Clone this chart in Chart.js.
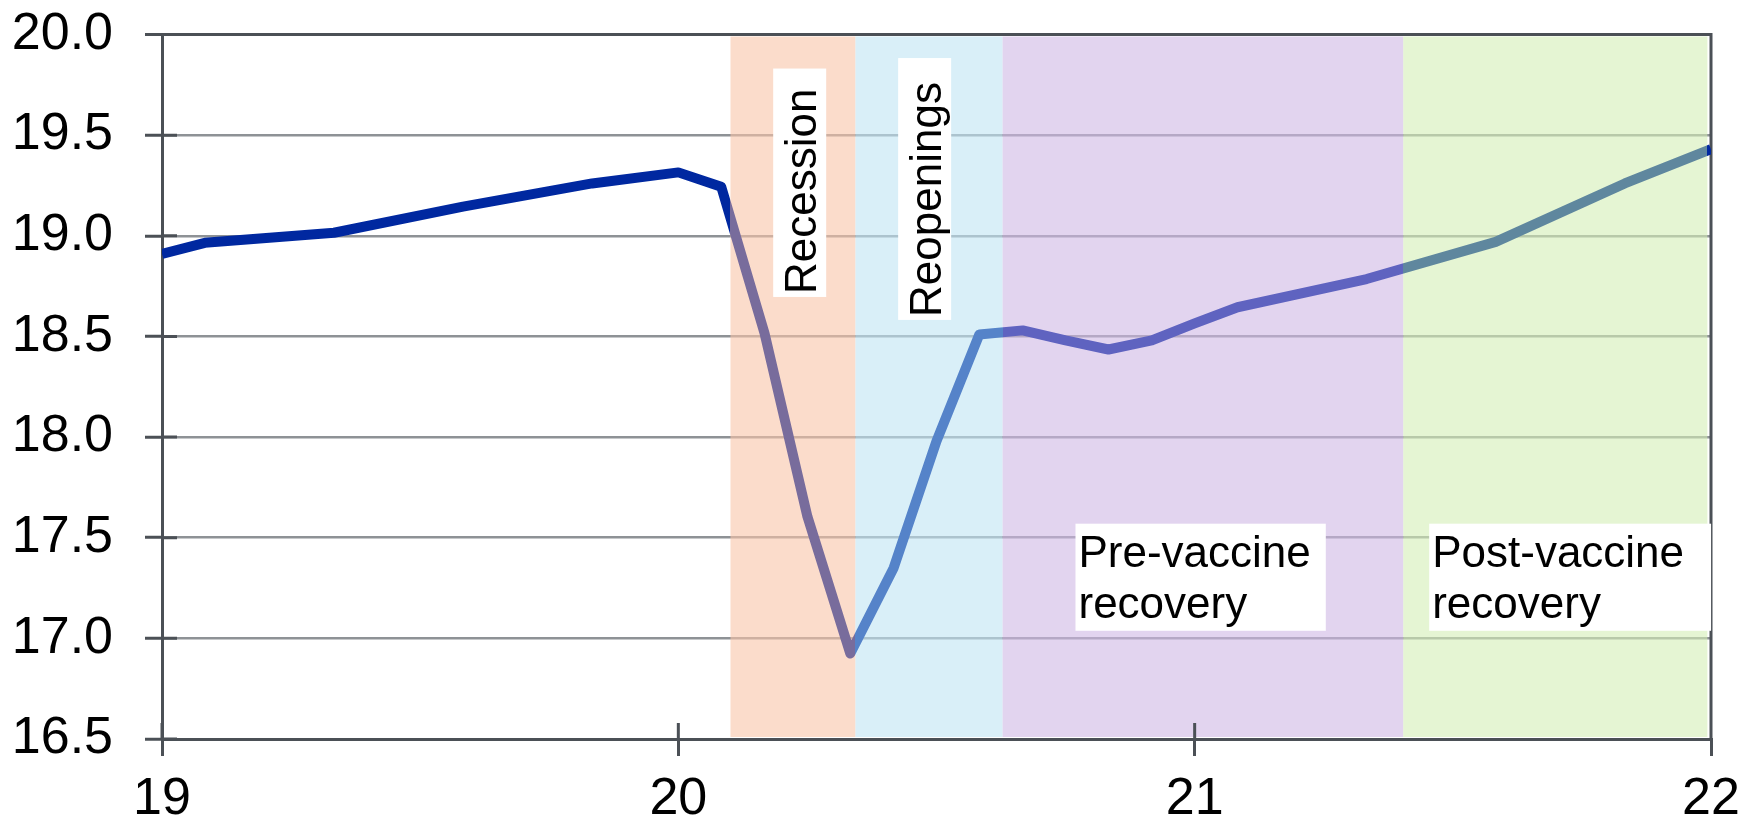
<!DOCTYPE html>
<html>
<head>
<meta charset="utf-8">
<script src="https://cdn.jsdelivr.net/npm/chart.js@4.4.1/dist/chart.umd.min.js"></script>
<style>
  body { margin: 0; background: #fff; }
  #wrap { width: 1745px; height: 822px; }
</style>
</head>
<body>
<div id="wrap"><canvas id="grafica" width="1745" height="822"></canvas></div>
<script>
// values (x = year, 19 = 2019)
const years = [19.0, 19.083, 19.333, 19.583, 19.833, 20.0, 20.083, 20.167, 20.25, 20.333,
               20.417, 20.5, 20.583, 20.667, 20.75, 20.833, 20.917, 21.0, 21.083, 21.333,
               21.583, 21.833, 22.0];
const values = [18.91, 18.965, 19.015, 19.145, 19.26, 19.315, 19.244, 18.515, 17.605, 16.925,
                17.35, 17.98, 18.51, 18.53, 18.48, 18.435, 18.48, 18.565, 18.645, 18.785,
                18.97, 19.26, 19.43];

const phaseNames = ['Recession', 'Reopenings', 'Pre-vaccine recovery', 'Post-vaccine recovery'];
const phaseStart = [20.101, 20.343, 20.628, 21.404];
const phaseEnd = [20.343, 20.628, 21.404, 21.993];

const xTicks = [19, 20, 21, 22];
const yMin = 16.5;
const yMax = 20.0;

// styles
const phaseColors = ['rgba(248,197,168,0.6)', 'rgba(192,228,243,0.6)', 'rgba(207,183,228,0.6)', 'rgba(212,238,182,0.6)'];
const lineColors = ['#0028a0', '#786c9c', '#5583c9', '#5f63c0', '#5f879e', '#0028a0'];
const dark = '#4b5056';
const gridGray = '#8e9296';
const fuente = "'Liberation Sans', Arial, sans-serif";

// where the phase labels sit (data units) and how their white boxes are padded
const phaseLabels = [
  { lines: ['Recession'], x: 20.267, y: 18.711, vertical: true, padEnd: 20 },
  { lines: ['Reopenings'], x: 20.509, y: 18.597, vertical: true, padEnd: 24 },
  { lines: ['Pre-vaccine', 'recovery'], x: 20.775, y: 17.356, vertical: false, padEnd: 15 },
  { lines: ['Post-vaccine', 'recovery'], x: 21.46, y: 17.356, vertical: false, padEnd: 27 }
];

function lineGradient(context) {
  const chart = context.chart;
  const { ctx, chartArea, scales } = chart;
  if (!chartArea || !scales.x) return lineColors[0];
  const left = chartArea.left;
  const width = chartArea.right - chartArea.left;
  const g = ctx.createLinearGradient(left, 0, chartArea.right, 0);
  const bounds = phaseStart.concat([phaseEnd[phaseEnd.length - 1]]);
  g.addColorStop(0, lineColors[0]);
  bounds.forEach((b, i) => {
    let off = (scales.x.getPixelForValue(b) - left) / width;
    off = Math.min(Math.max(off, 0), 1);
    g.addColorStop(off, lineColors[i]);
    g.addColorStop(off, lineColors[i + 1]);
  });
  g.addColorStop(1, lineColors[lineColors.length - 1]);
  return g;
}

const fasesPlugin = {
  id: 'fases',
  beforeDatasetsDraw(chart) {
    const { ctx, chartArea, scales: { x, y } } = chart;
    ctx.save();
    phaseStart.forEach((s, i) => {
      const a = x.getPixelForValue(s);
      const b = x.getPixelForValue(phaseEnd[i]);
      ctx.fillStyle = phaseColors[i];
      ctx.fillRect(a, chartArea.top + 2, b - a, chartArea.bottom - chartArea.top - 4);
    });

    // frame on the right and the inner half of the tick marks
    ctx.strokeStyle = dark;
    ctx.lineWidth = 3;
    ctx.beginPath();
    ctx.moveTo(chartArea.right, chartArea.top - 1.5);
    ctx.lineTo(chartArea.right, chartArea.bottom);
    xTicks.forEach(t => {
      const px = x.getPixelForValue(t);
      ctx.moveTo(px, chartArea.bottom);
      ctx.lineTo(px, chartArea.bottom - 16);
    });
    for (let v = yMin; v <= yMax + 0.001; v += 0.5) {
      const py = y.getPixelForValue(v);
      ctx.moveTo(chartArea.left, py);
      ctx.lineTo(chartArea.left + 15, py);
    }
    ctx.stroke();
    ctx.restore();
  },
  afterDatasetsDraw(chart) {
    const { ctx, scales: { x, y } } = chart;
    const size = 44;
    const lineGap = 51.6;
    ctx.save();
    ctx.font = size + 'px ' + fuente;
    ctx.textBaseline = 'alphabetic';
    ctx.textAlign = 'left';
    phaseLabels.forEach(lab => {
      const w = Math.max(...lab.lines.map(l => ctx.measureText(l).width));
      const h = (lab.lines.length - 1) * lineGap;
      ctx.save();
      ctx.translate(x.getPixelForValue(lab.x), y.getPixelForValue(lab.y));
      if (lab.vertical) ctx.rotate(-Math.PI / 2);
      ctx.fillStyle = '#fff';
      ctx.fillRect(-3, -43, w + 3 + lab.padEnd, h + 43 + (lab.vertical ? 10 : 12.5));
      ctx.fillStyle = '#000';
      lab.lines.forEach((l, i) => ctx.fillText(l, 0, i * lineGap));
      ctx.restore();
    });
    ctx.restore();
  }
};

const ctx = document.getElementById('grafica').getContext('2d');

new Chart(ctx, {
  type: 'line',
  data: {
    datasets: [{
      label: 'serie',
      data: years.map((yr, i) => ({ x: yr, y: values[i] })),
      borderColor: lineGradient,
      borderWidth: 10,
      borderJoinStyle: 'round',
      pointRadius: 0,
      tension: 0,
      fill: false
    }]
  },
  options: {
    responsive: false,
    animation: false,
    layout: { padding: { top: 34.5, right: 34, bottom: 0, left: 0 } },
    plugins: {
      legend: { display: false },
      tooltip: { enabled: false }
    },
    scales: {
      x: {
        type: 'linear',
        min: 19,
        max: 22,
        afterBuildTicks: scale => { scale.ticks = xTicks.map(v => ({ value: v })); },
        afterFit: scale => {
          scale.height = 83;
          scale.paddingLeft = 0;
          scale.paddingRight = 0;
        },
        ticks: {
          color: '#000',
          font: { family: fuente, size: 52 },
          padding: 12,
          maxRotation: 0,
          callback: v => String(v)
        },
        grid: {
          drawOnChartArea: false,
          tickLength: 17,
          tickColor: dark,
          tickWidth: 3,
          color: dark,
          lineWidth: 3
        },
        border: { color: dark, width: 3 }
      },
      y: {
        min: yMin,
        max: yMax,
        afterFit: scale => {
          scale.width = 162;
          scale.paddingTop = 0;
          scale.paddingBottom = 0;
        },
        ticks: {
          stepSize: 0.5,
          color: '#000',
          font: { family: fuente, size: 52 },
          padding: 32,
          callback: v => v.toFixed(1)
        },
        grid: {
          color: c => (c.tick && c.tick.value === yMax ? dark : gridGray),
          lineWidth: c => (c.tick && c.tick.value === yMax ? 3 : 2.5),
          tickLength: 17,
          tickColor: dark,
          tickWidth: 3
        },
        border: { color: dark, width: 3 }
      }
    }
  },
  plugins: [fasesPlugin]
});
</script>
</body>
</html>
